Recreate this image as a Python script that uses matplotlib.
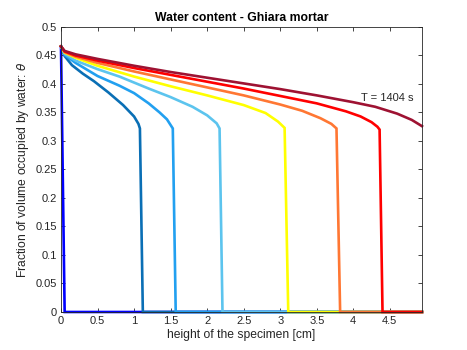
import matplotlib
matplotlib.use("Agg")
import matplotlib.pyplot as plt

plt.rcParams['font.family'] = ['Liberation Sans', 'DejaVu Sans']

# x positions [cm] and water content for each time profile
x_blue = [0.0, 0.05, 4.94]
y_blue = [0.466, 0.0, 0.0]

x_dblue = [0.0, 0.05, 0.15, 0.3, 0.45, 0.65, 0.85, 1.0, 1.06, 1.08, 1.12, 4.94]
y_dblue = [0.466, 0.449, 0.433, 0.418, 0.405, 0.385, 0.363, 0.343, 0.330, 0.322, 0.0, 0.0]

x_lb2 = [0.0, 0.05, 0.2, 0.5, 0.8, 1.0, 1.2, 1.35, 1.45, 1.51, 1.53, 1.57, 4.94]
y_lb2 = [0.466, 0.451, 0.437, 0.414, 0.397, 0.384, 0.366, 0.350, 0.338, 0.326, 0.322, 0.0, 0.0]

x_lb3 = [0.0, 0.05, 0.2, 0.5, 0.8, 1.2, 1.5, 1.8, 2.0, 2.13, 2.17, 2.21, 4.94]
y_lb3 = [0.466, 0.453, 0.441, 0.426, 0.413, 0.392, 0.377, 0.360, 0.345, 0.331, 0.322, 0.0, 0.0]

x_yel = [0.0, 0.05, 0.2, 0.5, 1.0, 1.5, 2.0, 2.5, 2.8, 2.97, 3.06, 3.11, 4.94]
y_yel = [0.466, 0.455, 0.446, 0.432, 0.413, 0.396, 0.380, 0.363, 0.349, 0.334, 0.323, 0.0, 0.0]

x_ora = [0.0, 0.05, 0.2, 0.5, 1.0, 1.5, 2.0, 2.5, 3.0, 3.3, 3.55, 3.7, 3.77, 3.82, 4.94]
y_ora = [0.466, 0.456, 0.448, 0.437, 0.422, 0.408, 0.394, 0.380, 0.364, 0.353, 0.340, 0.330, 0.322, 0.0, 0.0]

x_red = [0.0, 0.05, 0.2, 0.5, 1.0, 1.5, 2.0, 2.5, 3.0, 3.5, 3.9, 4.1, 4.25, 4.33, 4.36, 4.40, 4.94]
y_red = [0.466, 0.457, 0.450, 0.441, 0.428, 0.416, 0.404, 0.392, 0.379, 0.366, 0.352, 0.343, 0.333, 0.325, 0.320, 0.0, 0.0]

x_dred = [0.0, 0.05, 0.2, 0.5, 1.0, 1.5, 2.0, 2.5, 3.0, 3.5, 4.0, 4.3, 4.6, 4.8, 4.94]
y_dred = [0.466, 0.458, 0.452, 0.444, 0.432, 0.421, 0.411, 0.401, 0.391, 0.380, 0.368, 0.360, 0.348, 0.337, 0.326]

xticks = [0, 0.5, 1, 1.5, 2, 2.5, 3, 3.5, 4, 4.5]
xticklabels = ['0', '0.5', '1', '1.5', '2', '2.5', '3', '3.5', '4', '4.5']
yticks = [0, 0.05, 0.1, 0.15, 0.2, 0.25, 0.3, 0.35, 0.4, 0.45, 0.5]
yticklabels = ['0', '0.05', '0.1', '0.15', '0.2', '0.25', '0.3', '0.35', '0.4', '0.45', '0.5']

series = [
    (x_blue, y_blue, '#0000FF'),
    (x_dblue, y_dblue, '#0A6FB5'),
    (x_lb2, y_lb2, '#22A0F0'),
    (x_lb3, y_lb3, '#5CC4EE'),
    (x_yel, y_yel, '#FFFF00'),
    (x_ora, y_ora, '#FF7733'),
    (x_red, y_red, '#FF0000'),
    (x_dred, y_dred, '#9E1232'),
]

fig = plt.figure(figsize=(4.67, 3.5), dpi=100)
ax = fig.add_axes([0.1306, 0.1086, 0.7730, 0.8143])

for xs, ys, c in series:
    ax.plot(xs, ys, color=c, lw=1.9, solid_joinstyle='miter', clip_on=False)

ax.set_xlim(0, 4.94)
ax.set_ylim(0, 0.5)
ax.set_xticks(xticks)
ax.set_xticklabels(xticklabels)
ax.set_yticks(yticks)
ax.set_yticklabels(yticklabels)

txt = '#262626'
ax.tick_params(direction='in', length=3, width=0.6, top=True, right=True,
               labelsize=8, colors=txt, pad=3)
for s in ax.spines.values():
    s.set_linewidth(0.6)
    s.set_color(txt)

ax.set_title('Water content - Ghiara mortar', fontsize=8.8, fontweight='bold', color='black', pad=4)
ax.set_xlabel('height of the specimen [cm]', fontsize=8.7, color=txt, labelpad=2)
ax.set_ylabel('Fraction of volume occupied by water: $\\theta$', fontsize=8.7, color=txt, labelpad=3)
ax.text(4.47, 0.376, 'T = 1404 s', fontsize=8, color=txt, ha='center', va='center')

fig.savefig('out.png', dpi=100)
